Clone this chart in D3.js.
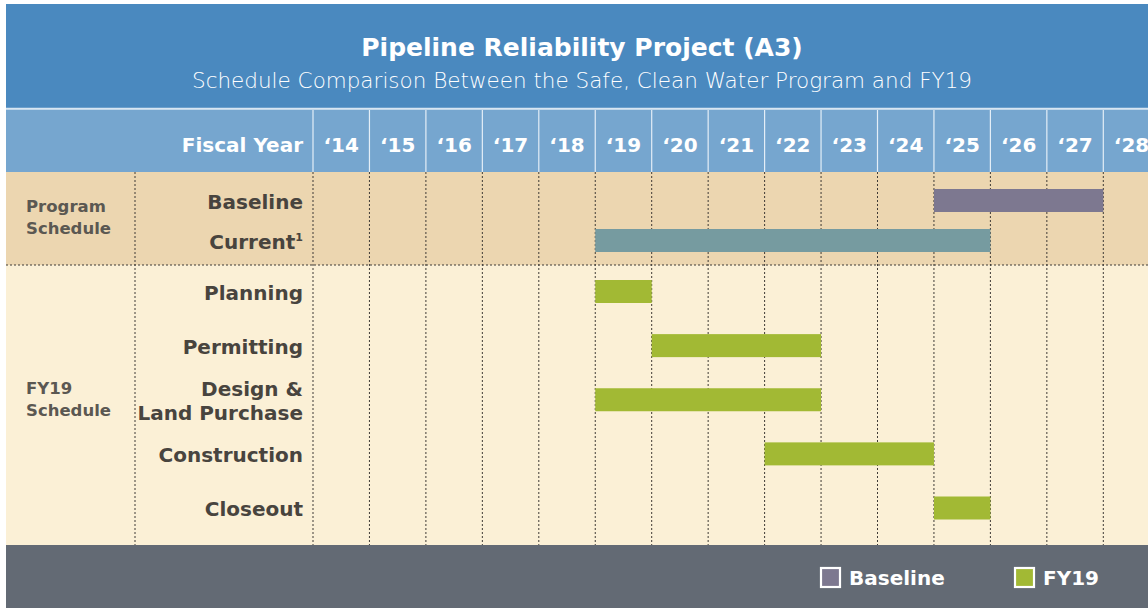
<!DOCTYPE html>
<html>
<head>
<meta charset="utf-8">
<script src="https://cdn.jsdelivr.net/npm/d3@7"></script>
<style>
  body { margin: 0; background: #fff; }
  svg { display: block; font-family: "DejaVu Sans", sans-serif; }
</style>
</head>
<body>
<div id="chart-area"></div>
<script>
var width = 1148;
var height = 608;

// data
var years = [2014, 2015, 2016, 2017, 2018, 2019, 2020, 2021, 2022, 2023, 2024, 2025, 2026, 2027, 2028];
var programRows = ["Baseline", "Current"];
var programStart = [2025, 2019];
var programEnd = [2027, 2025];
var fy19Rows = ["Planning", "Permitting", "Design & Land Purchase", "Construction", "Closeout"];
var fy19Start = [2019, 2020, 2019, 2022, 2025];
var fy19End = [2019, 2022, 2022, 2024, 2025];

var colors = {
  title: "#4a89bf", header: "#76a6cf", program: "#ecd6b0", fy19: "#fbf0d6",
  footer: "#636a74", baseline: "#7d7890", current: "#769ba0", green: "#a2b934",
  text: "#48443e", group: "#5b5852"
};

var padLeft = 6, padTop = 4;
var titleBottom = 108, headerBottom = 172, progBottom = 265, fyBottom = 545;
var labelCol = 135, yearCol = 313, colW = 56.45;

var svg = d3.select("#chart-area").append("svg")
  .attr("width", width).attr("height", height);

var x = d3.scaleLinear()
  .domain([2014, 2014 + years.length])
  .range([yearCol, yearCol + colW * years.length]);

var yProg = d3.scalePoint().domain(programRows).range([200.5, 240.5]);
var yFy = d3.scalePoint().domain(fy19Rows).range([291.5, 508]);
var barH = 23;

// backgrounds
svg.append("rect").attr("x", padLeft).attr("y", padTop).attr("width", width - padLeft).attr("height", titleBottom - padTop).attr("fill", colors.title);
svg.append("rect").attr("x", padLeft).attr("y", titleBottom + 1.5).attr("width", width - padLeft).attr("height", headerBottom - titleBottom - 1.5).attr("fill", colors.header);
svg.append("rect").attr("x", padLeft).attr("y", headerBottom).attr("width", width - padLeft).attr("height", progBottom - headerBottom).attr("fill", colors.program);
svg.append("rect").attr("x", padLeft).attr("y", progBottom).attr("width", width - padLeft).attr("height", fyBottom - progBottom).attr("fill", colors.fy19);
svg.append("rect").attr("x", padLeft).attr("y", fyBottom).attr("width", width - padLeft).attr("height", height - fyBottom).attr("fill", colors.footer);
svg.append("line").attr("x1", padLeft).attr("x2", width).attr("y1", titleBottom + 0.5).attr("y2", titleBottom + 0.5)
  .attr("stroke", "#d8e6f2").attr("stroke-width", 1.5);

// title
svg.append("text").attr("x", 582).attr("y", 56).attr("text-anchor", "middle")
  .attr("fill", "#fff").attr("font-size", "25px").attr("font-weight", 700)
  .text("Pipeline Reliability Project (A3)");
svg.append("text").attr("x", 582).attr("y", 88).attr("text-anchor", "middle")
  .attr("fill", "#fff").attr("font-size", "21.5px").attr("font-weight", 200)
  .text("Schedule Comparison Between the Safe, Clean Water Program and FY19");

// header
svg.append("text").attr("x", 303).attr("y", 152).attr("text-anchor", "end")
  .attr("fill", "#fff").attr("font-size", "20px").attr("font-weight", 700)
  .text("Fiscal Year");

var g = svg.append("g");

g.selectAll(".hdr-line").data(years).enter().append("line")
  .attr("class", "hdr-line")
  .attr("x1", function(d) { return x(d); }).attr("x2", function(d) { return x(d); })
  .attr("y1", titleBottom + 2).attr("y2", headerBottom)
  .attr("stroke", "#e4eef7").attr("stroke-width", 1.2);

g.selectAll(".yr").data(years).enter().append("text")
  .attr("class", "yr")
  .attr("x", function(d) { return x(d) + colW / 2; })
  .attr("y", 152).attr("text-anchor", "middle")
  .attr("fill", "#fff").attr("font-size", "20px").attr("font-weight", 700)
  .text(function(d) { return "\u2018" + String(d).slice(2); });

// dotted grid
var gridX = [labelCol].concat(years.map(function(d) { return x(d); }));
g.selectAll(".grid").data(gridX).enter().append("line")
  .attr("class", "grid")
  .attr("x1", function(d) { return d; }).attr("x2", function(d) { return d; })
  .attr("y1", headerBottom).attr("y2", fyBottom)
  .attr("stroke", "#3f3b36").attr("stroke-width", 1).attr("stroke-dasharray", "2,2");
g.append("line").attr("x1", padLeft).attr("x2", width).attr("y1", progBottom).attr("y2", progBottom)
  .attr("stroke", "#3f3b36").attr("stroke-width", 1).attr("stroke-dasharray", "2,2");

// bars
g.selectAll(".prog-bar").data(programRows).enter().append("rect")
  .attr("class", "prog-bar")
  .attr("x", function(d, i) { return x(programStart[i]); })
  .attr("width", function(d, i) { return x(programEnd[i] + 1) - x(programStart[i]); })
  .attr("y", function(d) { return yProg(d) - barH / 2; })
  .attr("height", barH)
  .attr("fill", function(d, i) { return i === 0 ? colors.baseline : colors.current; });

g.selectAll(".fy-bar").data(fy19Rows).enter().append("rect")
  .attr("class", "fy-bar")
  .attr("x", function(d, i) { return x(fy19Start[i]); })
  .attr("width", function(d, i) { return x(fy19End[i] + 1) - x(fy19Start[i]); })
  .attr("y", function(d) { return yFy(d) - barH / 2; })
  .attr("height", barH)
  .attr("fill", colors.green);

// row labels
var progLab = g.selectAll(".prog-lab").data(programRows).enter().append("text")
  .attr("class", "prog-lab")
  .attr("x", 303).attr("y", function(d) { return yProg(d) + 8; })
  .attr("text-anchor", "end").attr("fill", colors.text)
  .attr("font-size", "20px").attr("font-weight", 700);
progLab.append("tspan").text(function(d) { return d; });
progLab.filter(function(d) { return d === "Current"; }).append("tspan")
  .attr("font-size", "11px").attr("dy", -8).text("1");

var fyLab = g.selectAll(".fy-lab").data(fy19Rows).enter().append("text")
  .attr("class", "fy-lab")
  .attr("text-anchor", "end").attr("fill", colors.text)
  .attr("font-size", "20px").attr("font-weight", 700);
fyLab.each(function(d) {
  var t = d3.select(this);
  var lines = d === "Design & Land Purchase" ? ["Design &", "Land Purchase"] : [d];
  var y0 = yFy(d) + 8 - (lines.length - 1) * 12;
  lines.forEach(function(l, i) {
    t.append("tspan").attr("x", 303).attr("y", y0 + i * 24).text(l);
  });
});

// group labels
var groups = [
  { lines: ["Program", "Schedule"], y: 212 },
  { lines: ["FY19", "Schedule"], y: 394 }
];
groups.forEach(function(gr) {
  var t = g.append("text").attr("fill", colors.group).attr("font-size", "16.5px").attr("font-weight", 700);
  gr.lines.forEach(function(l, i) {
    t.append("tspan").attr("x", 26).attr("y", gr.y + i * 22).text(l);
  });
});

// legend
var legend = [
  { name: "Baseline", color: colors.baseline, x: 820 },
  { name: "FY19", color: colors.green, x: 1014 }
];
var lg = svg.selectAll(".legend").data(legend).enter().append("g")
  .attr("class", "legend")
  .attr("transform", function(d) { return "translate(" + d.x + ", 567)"; });
lg.append("rect").attr("x", 1).attr("y", 1).attr("width", 19).attr("height", 19)
  .attr("fill", function(d) { return d.color; })
  .attr("stroke", "#fff").attr("stroke-width", 2.2);
lg.append("text").attr("x", 29).attr("y", 18)
  .attr("fill", "#fff").attr("font-size", "20px").attr("font-weight", 700)
  .text(function(d) { return d.name; });
</script>
</body>
</html>
